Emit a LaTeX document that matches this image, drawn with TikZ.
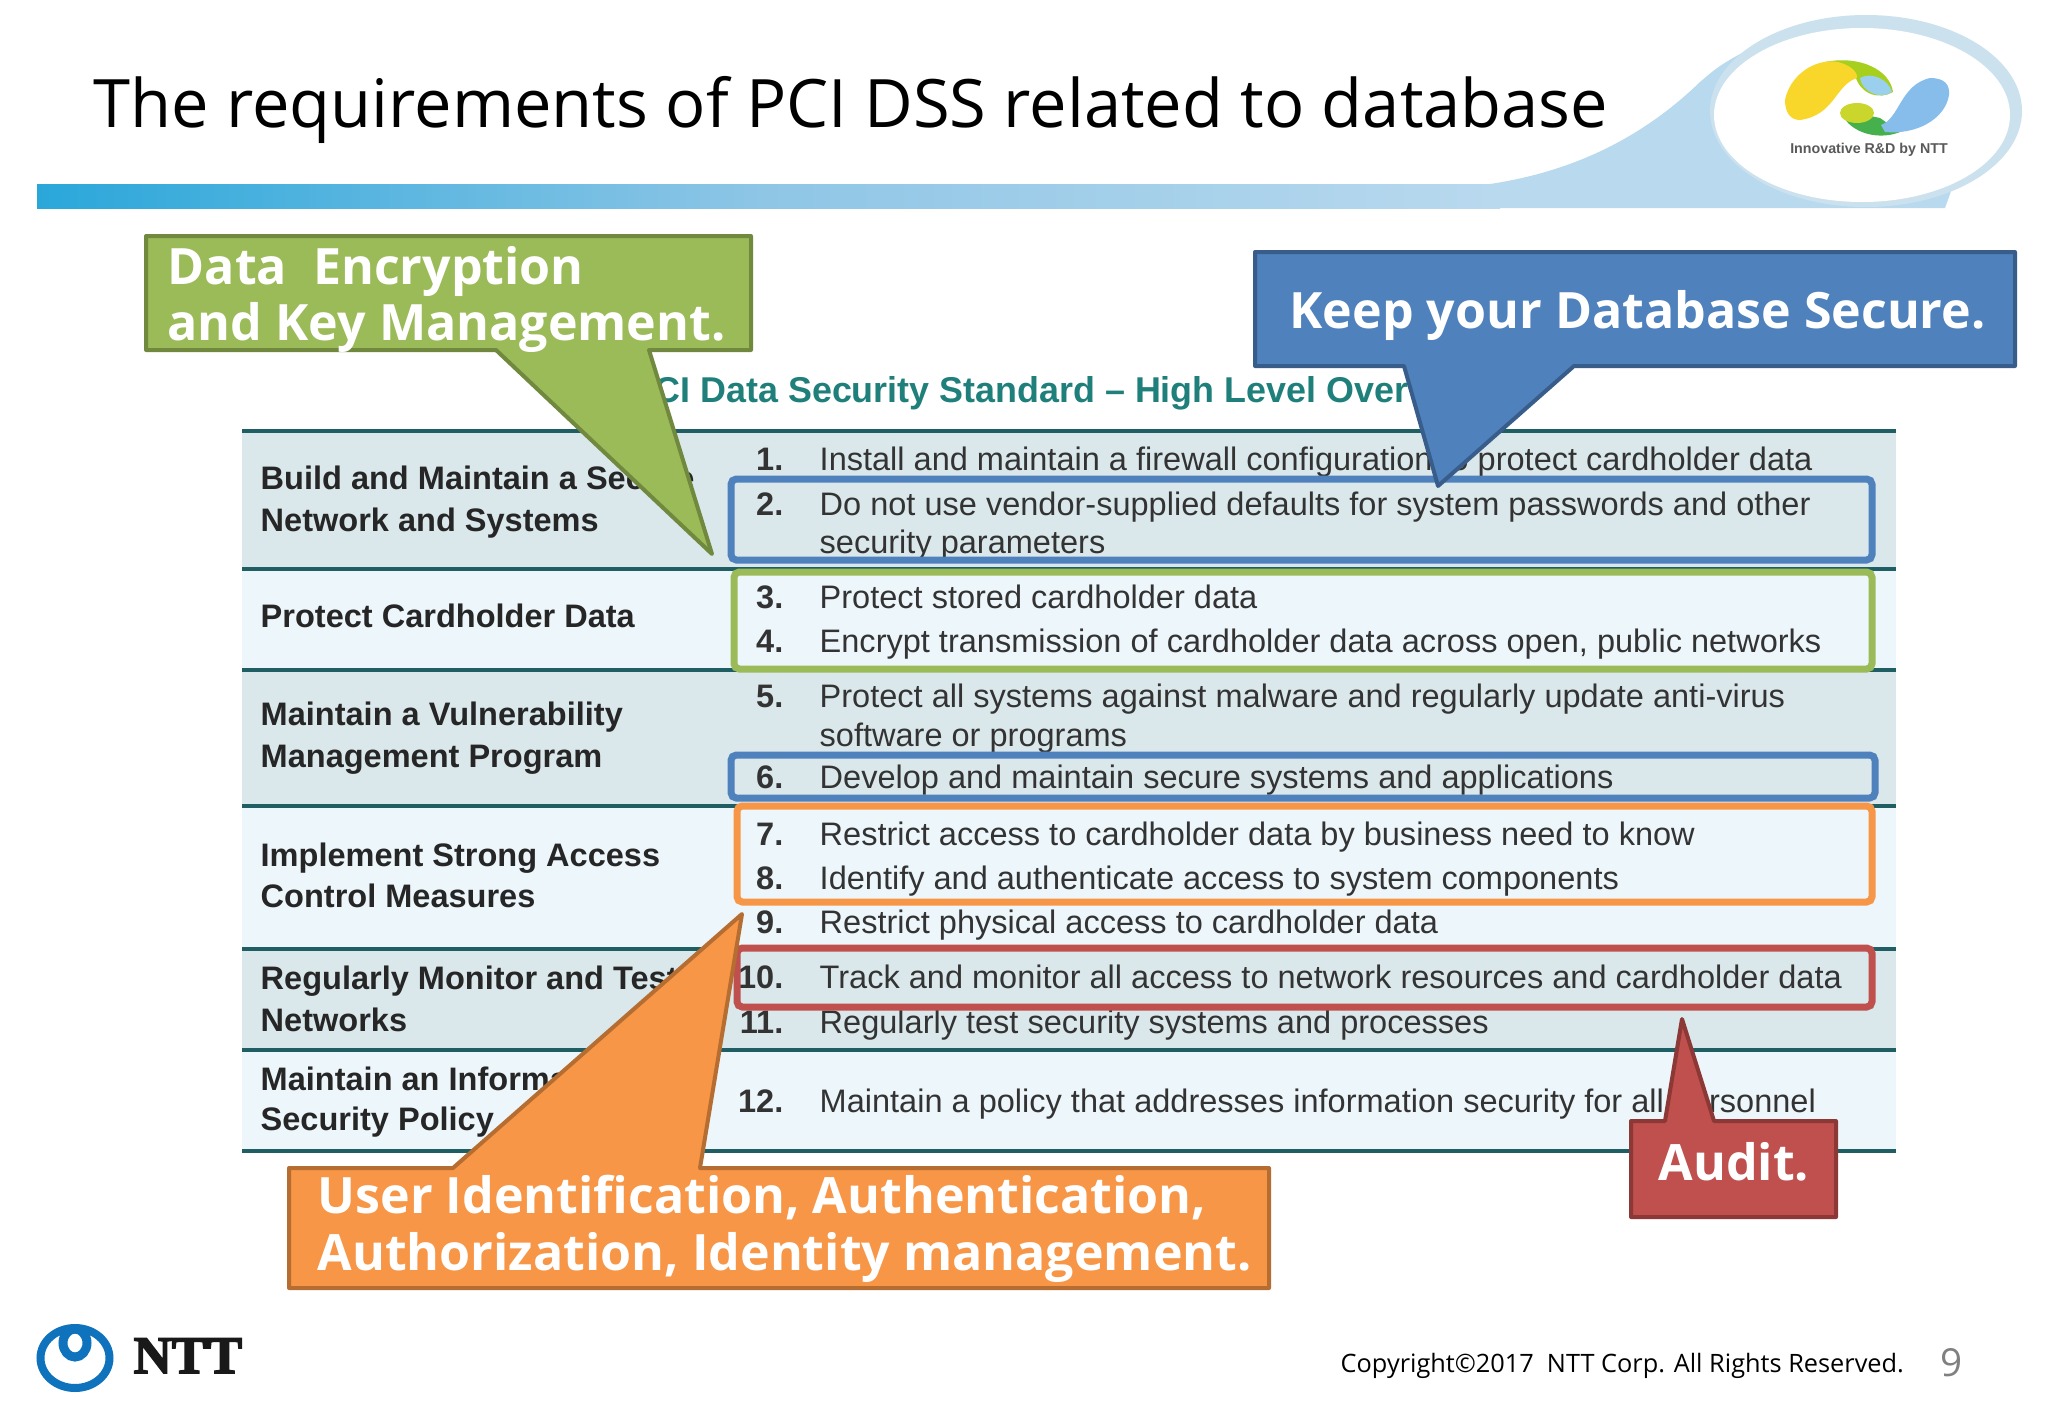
\documentclass[tikz,border=0pt]{standalone}
\usepackage{fontspec}
\usepackage{xcolor}
\setmainfont{Open Sans}
\newfontfamily\tablefont{Liberation Sans}
\newfontfamily\nttfont[UprightFont=* Bold,FakeBold=3]{Liberation Serif}
\definecolor{bluebox}{HTML}{4F81BD}
\definecolor{blueedge}{HTML}{385D8A}
\definecolor{greenbox}{HTML}{9BBB59}
\definecolor{greenedge}{HTML}{71893F}
\definecolor{orangebox}{HTML}{F79646}
\definecolor{orangeedge}{HTML}{B66D31}
\definecolor{redbox}{HTML}{C0504D}
\definecolor{rededge}{HTML}{8C3836}
\definecolor{ruleline}{HTML}{1F5F63}
\definecolor{headteal}{HTML}{1F7F7A}
\definecolor{rowdark}{HTML}{DAE8EC}
\definecolor{rowlight}{HTML}{EDF6FA}
\definecolor{swoosh}{HTML}{B9D9EE}
\definecolor{ringblue}{HTML}{CBE2EE}
\definecolor{bandleft}{HTML}{2AA7DA}
\definecolor{bandmid}{HTML}{8FC6E6}
\definecolor{logoyellow}{HTML}{F9D62A}
\definecolor{logolime}{HTML}{A6CF1E}
\definecolor{logosky}{HTML}{9AD0EE}
\definecolor{logoblue}{HTML}{86BDEB}
\definecolor{logogreen}{HTML}{45B04C}
\definecolor{logopear}{HTML}{CBD62C}
\definecolor{nttblue}{HTML}{0F72BD}
\begin{document}
\begin{tikzpicture}[x=0.01cm,y=-0.01cm]
  \tikzset{rule/.style = {draw=ruleline,line width=3.5*0.2845pt}}
  \tikzset{mark box/.style = {line width=7*0.2845pt,rounded corners=1.5pt}}
  \tikzset{bubble/.style = {line width=4*0.2845pt,line join=round}}
  \tikzset{lbl/.style = {inner sep=0pt,anchor=base west}}
  \tikzset{head/.style = {lbl,font=\tablefont\bfseries\fontsize{9.25pt}{10pt}\selectfont,text=black!85}}
  \tikzset{item/.style = {lbl,font=\tablefont\fontsize{9.25pt}{10pt}\selectfont,text=black!80}}
  \tikzset{num/.style = {inner sep=0pt,anchor=base east,font=\tablefont\bfseries\fontsize{9.25pt}{10pt}\selectfont,text=black!80}}
  \tikzset{say/.style = {lbl,font=\bfseries\fontsize{14.25pt}{16pt}\selectfont,text=white}}

  \useasboundingbox[fill=white] (0,0) rectangle (2048,1418);

  \shade[left color=bandleft,right color=swoosh,middle color=bandmid] (37,184) rectangle (1500,208);
  \fill[swoosh] (1490,184) .. controls (1570,172) and (1640,140) .. (1700,82) .. controls (1720,65) .. (1760,43) -- (1960,60) -- (1955,180) -- (1945,208) -- (1490,208) -- cycle;
  \fill[ringblue] (1866,111) ellipse [x radius=156,y radius=96];
  \fill[white] (1862,115) ellipse [x radius=148,y radius=87];

  \fill[logolime] (1825,62) .. controls (1860,55) and (1890,70) .. (1893,92) .. controls (1880,100) and (1860,95) .. (1855,75) -- cycle;
  \fill[logoyellow] (1785,100) .. controls (1790,75) and (1815,58) .. (1838,62) .. controls (1850,65) and (1858,72) .. (1857,78) .. controls (1835,85) and (1835,115) .. (1800,120) .. controls (1790,120) and (1785,112) .. (1785,100) -- cycle;
  \fill[logosky] (1860,78) .. controls (1870,72) and (1888,78) .. (1892,92) .. controls (1880,100) and (1862,92) .. (1860,78) -- cycle;
  \fill[logogreen] (1841,110) .. controls (1845,130) and (1875,142) .. (1900,132) -- (1880,118) -- cycle;
  \fill[logoblue] (1881,125) .. controls (1900,118) and (1900,85) .. (1930,78) .. controls (1945,78) and (1950,85) .. (1949,95) .. controls (1945,120) and (1915,135) .. (1885,132) -- cycle;
  \fill[logopear] (1857,113) ellipse [x radius=17,y radius=10];
  \node[inner sep=0pt,font=\tablefont\bfseries\fontsize{4.05pt}{5pt}\selectfont,text=black!65] (tagline) at (1869,150) {Innovative R\&D by NTT};

  \node[lbl,font=\fontsize{19pt}{22pt}\selectfont] (title) at (93,127) {The requirements of PCI DSS related to database};

  \foreach \top/\bottom/\tint in {431/569/rowdark,569/670/rowlight,670/806/rowdark,806/949/rowlight,949/1050/rowdark,1050/1151/rowlight}
    \fill[\tint] (242,\top) rectangle (1896,\bottom);
  \foreach \y in {431,569,670,806,949,1050,1151}
    \draw[rule] (242,\y) -- (1896,\y);

  \node[head,font=\tablefont\bfseries\fontsize{10.2pt}{12pt}\selectfont,text=headteal] (tabletitle) at (630,402) {PCI Data Security Standard – High Level Overview};

  \foreach \name/\y/\text in {a/489/Build and Maintain a Secure,b/531/Network and Systems,c/627/Protect Cardholder Data,d/725/Maintain a Vulnerability,e/767/Management Program,f/866/Implement Strong Access,g/907/Control Measures,h/989/Regularly Monitor and Test,i/1031/Networks,j/1090/Maintain an Information,k/1130/Security Policy}
    \node[head] (head\name) at (260,\y) {\text};

  \foreach \i/\y in {1/470,2/515,3/608,4/652,5/707,6/788,7/845,8/889,9/933,10/988,11/1033,12/1112}
    \node[num] (num\i) at (784,\y) {\i.};

  \foreach \name/\y/\text in {a/470/Install and maintain a firewall configuration to protect cardholder data,b/515/Do not use vendor-supplied defaults for system passwords and other,c/553/security parameters,d/608/Protect stored cardholder data,e/652/{Encrypt transmission of cardholder data across open, public networks},f/707/Protect all systems against malware and regularly update anti-virus,g/746/software or programs,h/788/Develop and maintain secure systems and applications,i/845/Restrict access to cardholder data by business need to know,j/889/Identify and authenticate access to system components,k/933/Restrict physical access to cardholder data,l/988/Track and monitor all access to network resources and cardholder data,m/1033/Regularly test security systems and processes,n/1112/Maintain a policy that addresses information security for all personnel}
    \node[item] (item\name) at (819,\y) {\text};

  \foreach \tint/\xa/\ya/\xb/\yb in {bluebox/731/479/1872/560,greenbox/734/572/1872/669,bluebox/731/755/1875/798,orangebox/737/806/1872/902,redbox/737/948/1872/1007}
    \draw[mark box,draw=\tint] (\xa,\ya) rectangle (\xb,\yb);

  \draw[bubble,fill=greenbox,draw=greenedge] (146,236) -- (751,236) -- (751,350) -- (649,350) -- (712,554) -- (496,350) -- (146,350) -- cycle;
  \node[say] (sayone) at (167,284) {Data\ \ Encryption};
  \node[say] (saytwo) at (167,340) {and Key Management.};

  \draw[bubble,fill=bluebox,draw=blueedge] (1255,252) -- (2015,252) -- (2015,366) -- (1574,366) -- (1438,486) -- (1404,366) -- (1255,366) -- cycle;
  \node[say] (saykeep) at (1289,328) {Keep your Database Secure.};

  \draw[bubble,fill=orangebox,draw=orangeedge] (289,1168) -- (453,1168) -- (742,914) -- (700,1168) -- (1269,1168) -- (1269,1288) -- (289,1288) -- cycle;
  \node[say] (sayuser) at (317,1213) {User Identification, Authentication,};
  \node[say] (sayauth) at (317,1270) {Authorization, Identity management.};

  \draw[bubble,fill=redbox,draw=rededge] (1631,1121) -- (1665,1121) -- (1682,1019) -- (1714,1121) -- (1836,1121) -- (1836,1217) -- (1631,1217) -- cycle;
  \node[say] (sayaudit) at (1658,1180) {Audit.};

  \draw[line width=8*0.2845pt,draw=nttblue] (75,1358) ellipse [x radius=34.5,y radius=30];
  \draw[line width=9*0.2845pt,draw=nttblue] (75,1343) ellipse [x radius=12,y radius=14];
  \node[lbl,font=\nttfont\fontsize{15pt}{18pt}\selectfont,text=black!90] (ntt) at (133,1373) {NTT};

  \node[lbl,font=\fontsize{7.2pt}{8pt}\selectfont] (copyright) at (1340,1372) {Copyright©2017\ \ NTT Corp. All Rights Reserved.};
  \node[lbl,font=\fontsize{11pt}{13pt}\selectfont,text=black!50] (pagenum) at (1940,1376) {9};
\end{tikzpicture}
\end{document}
